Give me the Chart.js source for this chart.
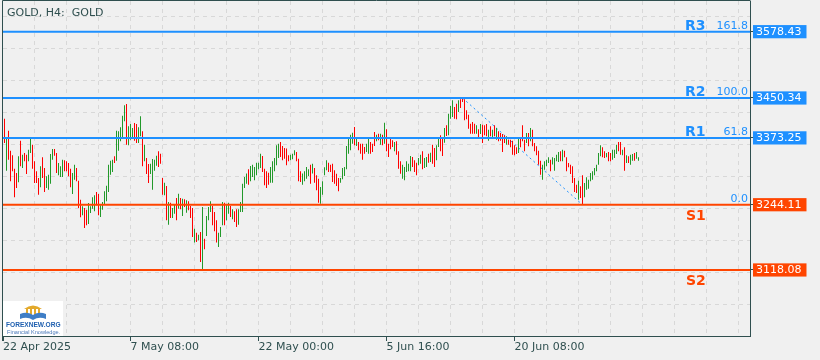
<!DOCTYPE html>
<html>
<head>
<meta charset="utf-8">
<title>GOLD H4</title>
<script src="https://cdn.jsdelivr.net/npm/chart.js@4"></script>
<style>
  html, body { margin: 0; padding: 0; background: #f0f0f0; }
  canvas { display: block; }
</style>
</head>
<body>
<canvas id="chart" width="820" height="360"></canvas>
<script>
// Giá cao / thấp của từng nến H4, hướng nến: 1 = tăng, 0 = giảm
const highs = [
  3410.4, 3373.0, 3387.2, 3348.5, 3339.5, 3313.8, 3305.4, 3337.6, 3367.9, 3340.8,
  3344.0, 3340.8, 3350.5, 3373.0, 3360.1, 3327.9, 3308.6, 3295.7, 3318.3, 3335.7,
  3315.1, 3299.0, 3302.2, 3342.1, 3351.8, 3351.8, 3344.0, 3324.7, 3318.3, 3331.2,
  3329.9, 3327.9, 3324.7, 3313.8, 3305.4, 3321.5, 3315.1, 3290.6, 3253.9, 3241.0,
  3237.8, 3234.6, 3247.4, 3241.0, 3258.4, 3262.3, 3268.7, 3264.8, 3242.9, 3249.4,
  3270.0, 3280.9, 3321.5, 3329.2, 3331.2, 3337.6, 3387.2, 3385.9, 3393.6, 3416.2,
  3436.1, 3438.7, 3395.6, 3400.1, 3392.3, 3402.0, 3400.1, 3393.6, 3414.9, 3385.9,
  3360.1, 3334.4, 3322.8, 3323.4, 3332.4, 3331.2, 3338.9, 3347.3, 3342.8, 3295.8,
  3286.8, 3280.3, 3249.4, 3248.1, 3237.8, 3244.3, 3257.1, 3265.5, 3257.1, 3255.9,
  3254.6, 3252.6, 3250.7, 3241.7, 3237.8, 3197.9, 3190.2, 3186.3, 3191.5, 3239.8,
  3178.6, 3222.4, 3239.8, 3250.7, 3241.7, 3230.1, 3214.0, 3190.2, 3201.1, 3249.4,
  3248.1, 3244.3, 3248.1, 3241.7, 3235.3, 3231.4, 3235.3, 3235.3, 3249.4, 3284.8,
  3297.7, 3304.2, 3312.5, 3319.0, 3321.5, 3317.0, 3325.4, 3325.4, 3342.8, 3338.3,
  3313.8, 3308.7, 3306.1, 3317.0, 3328.0, 3334.4, 3358.9, 3362.1, 3365.3, 3357.6,
  3353.7, 3352.5, 3339.6, 3340.9, 3342.8, 3349.2, 3346.0, 3333.1, 3308.7, 3304.2,
  3308.7, 3317.0, 3312.5, 3321.5, 3323.5, 3315.1, 3300.9, 3294.5, 3278.4, 3289.3,
  3316.4, 3329.9, 3325.4, 3321.5, 3323.4, 3310.6, 3304.1, 3295.7, 3295.7, 3315.1,
  3317.0, 3357.6, 3371.7, 3379.5, 3383.3, 3394.3, 3375.0, 3365.3, 3362.1, 3362.1,
  3355.6, 3362.1, 3371.7, 3365.3, 3362.1, 3384.6, 3379.5, 3381.4, 3381.4, 3379.5,
  3402.7, 3389.8, 3362.1, 3371.7, 3368.5, 3365.3, 3366.6, 3347.3, 3327.9, 3321.5,
  3317.0, 3327.9, 3323.4, 3338.3, 3336.3, 3329.9, 3325.4, 3334.4, 3340.8, 3347.3,
  3334.4, 3336.3, 3342.8, 3344.7, 3360.1, 3353.7, 3358.9, 3375.0, 3378.2, 3375.0,
  3392.3, 3397.5, 3420.0, 3434.9, 3445.8, 3432.9, 3439.4, 3445.8, 3447.7, 3450.34,
  3447.7, 3426.5, 3418.1, 3400.7, 3403.9, 3400.7, 3397.5, 3389.8, 3400.1, 3398.8,
  3397.5, 3400.1, 3389.2, 3395.6, 3389.2, 3397.5, 3392.4, 3385.9, 3382.7, 3380.8,
  3378.2, 3376.3, 3369.8, 3369.8, 3367.9, 3358.9, 3355.0, 3371.8, 3371.8, 3397.5,
  3369.8, 3382.7, 3382.7, 3392.4, 3389.2, 3363.4, 3357.0, 3348.6, 3329.3, 3321.5,
  3328.0, 3331.2, 3335.7, 3331.2, 3336.0, 3334.4, 3340.9, 3346.0, 3347.3, 3350.5,
  3348.6, 3335.7, 3324.8, 3321.5, 3318.3, 3295.8, 3282.9, 3290.6, 3279.7, 3300.9,
  3286.1, 3297.1, 3292.6, 3305.4, 3308.7, 3315.1, 3321.5, 3344.1, 3358.9, 3355.0,
  3347.3, 3344.1, 3346.0, 3344.1, 3350.5, 3350.5, 3360.2, 3365.3, 3365.3, 3350.5,
  3355.0, 3339.6, 3337.6, 3340.9, 3342.1, 3344.1, 3346.0, 3335.7
];
const lows = [
  3363.4, 3309.9, 3331.2, 3289.3, 3308.6, 3258.4, 3276.4, 3287.4, 3318.3, 3315.1,
  3327.9, 3303.5, 3327.9, 3344.0, 3313.8, 3286.1, 3286.1, 3263.5, 3277.7, 3295.7,
  3268.7, 3276.4, 3273.2, 3284.8, 3331.2, 3338.9, 3305.4, 3300.9, 3297.7, 3297.7,
  3308.6, 3308.6, 3299.0, 3277.7, 3264.8, 3292.5, 3289.3, 3237.8, 3219.7, 3223.6,
  3199.1, 3204.3, 3206.9, 3228.1, 3236.5, 3231.3, 3242.9, 3223.6, 3220.4, 3234.6,
  3245.5, 3250.7, 3268.7, 3302.2, 3307.3, 3324.7, 3329.2, 3348.5, 3366.6, 3374.3,
  3405.2, 3360.1, 3358.9, 3369.8, 3371.7, 3367.9, 3363.4, 3363.4, 3376.2, 3318.3,
  3327.9, 3303.5, 3286.1, 3303.5, 3273.2, 3309.9, 3319.6, 3317.0, 3323.5, 3263.6,
  3262.3, 3214.0, 3205.6, 3218.5, 3218.5, 3226.9, 3214.0, 3236.5, 3235.3, 3222.4,
  3239.8, 3228.8, 3233.3, 3218.5, 3181.8, 3170.9, 3172.1, 3175.4, 3133.5, 3119.0,
  3158.0, 3183.7, 3214.0, 3230.1, 3204.3, 3192.7, 3170.9, 3162.5, 3181.8, 3204.3,
  3204.3, 3214.0, 3226.9, 3220.4, 3215.9, 3210.8, 3201.1, 3205.6, 3230.1, 3230.1,
  3276.5, 3284.8, 3282.9, 3289.3, 3297.7, 3291.3, 3300.9, 3312.5, 3315.1, 3307.4,
  3281.6, 3276.5, 3282.9, 3286.8, 3286.8, 3308.7, 3320.3, 3334.4, 3336.4, 3329.9,
  3333.1, 3320.3, 3328.0, 3329.9, 3331.9, 3339.6, 3328.0, 3289.3, 3288.1, 3282.9,
  3289.3, 3294.5, 3299.7, 3284.8, 3304.2, 3286.8, 3272.0, 3248.1, 3246.2, 3263.5,
  3300.9, 3310.6, 3307.3, 3307.3, 3288.0, 3284.8, 3280.3, 3270.0, 3286.7, 3293.2,
  3299.6, 3312.5, 3342.8, 3349.2, 3362.1, 3358.9, 3357.6, 3349.2, 3342.8, 3331.2,
  3342.8, 3346.0, 3342.8, 3342.8, 3346.0, 3357.6, 3366.6, 3368.5, 3360.1, 3358.9,
  3362.1, 3347.3, 3336.3, 3351.1, 3355.6, 3347.3, 3340.8, 3313.8, 3304.1, 3294.5,
  3291.2, 3307.3, 3308.6, 3308.6, 3317.0, 3307.3, 3300.9, 3320.2, 3323.4, 3312.5,
  3315.1, 3317.0, 3325.4, 3326.7, 3323.4, 3317.0, 3329.9, 3355.6, 3347.3, 3338.3,
  3364.0, 3376.9, 3378.2, 3410.4, 3413.6, 3410.4, 3409.1, 3423.3, 3431.0, 3442.6,
  3407.2, 3409.1, 3391.1, 3381.4, 3381.4, 3381.4, 3381.4, 3375.0, 3380.8, 3363.4,
  3378.2, 3376.3, 3367.9, 3376.3, 3373.1, 3376.3, 3369.8, 3366.6, 3367.9, 3346.0,
  3363.4, 3360.2, 3360.2, 3355.0, 3340.9, 3339.6, 3342.1, 3344.1, 3355.0, 3366.6,
  3347.3, 3363.4, 3357.0, 3366.6, 3357.0, 3347.3, 3339.6, 3321.5, 3302.2, 3292.6,
  3311.9, 3318.3, 3324.8, 3308.7, 3322.0, 3309.9, 3328.0, 3326.7, 3328.0, 3328.0,
  3335.7, 3308.7, 3316.4, 3303.5, 3286.1, 3268.7, 3266.8, 3253.9, 3257.1, 3244.11,
  3258.4, 3273.2, 3275.2, 3289.3, 3292.6, 3300.9, 3308.7, 3321.5, 3337.6, 3335.7,
  3334.4, 3335.7, 3328.0, 3328.0, 3331.2, 3334.4, 3342.1, 3347.3, 3340.9, 3339.6,
  3309.9, 3324.8, 3324.8, 3321.5, 3329.3, 3329.3, 3333.1, 3329.3
];
const dirs = [
  0,1,0,0,0,0,0,1,0,1, 0,0,1,1,0,0,0,0,1,0, 0,1,1,1,1,0,0,1,1,1, 0,0,0,0,1,1,0,0,0,1,
  0,0,1,1,1,1,0,0,1,1, 1,1,1,1,1,0,1,1,1,1, 1,0,1,1,1,0,0,1,1,0, 1,0,0,1,1,1,1,0,0,0,
  1,0,1,0,1,1,0,1,0,1, 0,1,0,0,0,1,0,1,0,1, 0,1,1,1,0,0,0,1,1,1, 0,1,1,0,1,0,0,1,1,1,
  1,1,0,1,1,1,1,1,1,0, 0,0,0,1,1,1,1,1,0,0, 0,0,0,1,1,1,0,0,0,1, 1,1,1,0,1,0,0,0,1,1,
  1,1,0,0,0,0,0,0,1,1, 1,1,1,1,1,0,1,0,0,0, 0,1,1,0,0,0,1,0,1,0, 1,0,0,0,0,1,0,0,0,1,
  1,1,1,1,0,0,0,1,1,0, 1,1,0,1,0,0,1,1,0,0, 1,0,1,1,1,0,0,1,0,0, 0,0,0,0,0,0,1,0,1,0,
  0,0,1,0,1,0,1,0,0,0, 0,1,0,0,0,0,0,1,0,0, 0,1,0,1,0,0,0,0,0,1, 1,1,1,0,1,1,1,1,0,1,
  0,0,0,0,0,0,0,1,0,0, 1,1,1,1,1,1,1,1,1,0, 0,1,0,0,1,1,1,0,0,1, 0,1,0,1,1,0,1,1
];

// Các mức hỗ trợ / kháng cự và Fibonacci
const levelNames = ['R3', 'R2', 'R1', 'S1', 'S2'];
const levelValues = [3578.43, 3450.34, 3373.25, 3244.11, 3118.08];
const fibLabels = ['161.8', '100.0', '61.8', '0.0', ''];
const fibIdx = [229, 289];          // nến đỉnh -> nến đáy
const fibPrices = [3450.34, 3244.11];

// Nhãn thời gian trên trục x
const firstTimeLabel = '22 Apr 2025';
const timeLabelIdx = [63, 127, 191, 255];
const timeLabels = ['7 May 08:00', '22 May 00:00', '5 Jun 16:00', '20 Jun 08:00'];

const X_MIN = -0.75, X_MAX = 372.75;
const Y_MIN = 2990.5, Y_MAX = 3637.7;

const BLUE = '#1e90ff', ORANGE = '#ff4500';
const UP = '#22992a', DOWN = '#ff0000';
const INK = '#2f4f4f', GRID = '#d8d8d8';
const FONT = '"DejaVu Sans", sans-serif';

const isLevel = (v) => levelValues.includes(v);
const levelColor = (v) => levelValues.indexOf(v) < 3 ? BLUE : ORANGE;
const isTimeTick = (v) => v === X_MIN || timeLabelIdx.includes(v);

// khung viền trái / trên + tiêu đề + logo
const decorPlugin = {
  id: 'decor',
  afterDatasetsDraw(chart) {
    const ctx = chart.ctx;
    const area = chart.chartArea;
    const ys = chart.scales.y;
    ctx.save();
    levelValues.forEach((v, k) => {
      const py = ys.getPixelForValue(v);
      ctx.font = 'bold 14px ' + FONT;
      ctx.fillStyle = k < 3 ? BLUE : ORANGE;
      ctx.textAlign = 'left';
      ctx.textBaseline = 'alphabetic';
      if (k < 3) ctx.fillText(levelNames[k], area.right - 65, py - 2);
      else ctx.fillText(levelNames[k], area.right - 64, py + 15);
      if (fibLabels[k]) {
        ctx.font = '11px ' + FONT;
        ctx.fillStyle = BLUE;
        ctx.textAlign = 'right';
        ctx.fillText(fibLabels[k], area.right - 2, py - 3);
      }
    });
    ctx.restore();
  },
  afterDraw(chart) {
    const ctx = chart.ctx;
    const area = chart.chartArea;
    ctx.save();
    ctx.strokeStyle = INK;
    ctx.lineWidth = 1;
    ctx.beginPath();
    ctx.moveTo(area.left - 0.5, area.bottom + 5);
    ctx.lineTo(area.left - 0.5, area.top - 0.5);
    ctx.lineTo(area.right + 0.5, area.top - 0.5);
    ctx.stroke();

    ctx.fillStyle = INK;
    ctx.font = '11px ' + FONT;
    ctx.textBaseline = 'alphabetic';
    ctx.fillText('GOLD, H4:  GOLD', 7, 16);

    // logo FOREXNEW.ORG
    const lx = area.left, ly = area.bottom - 35;
    ctx.fillStyle = '#ffffff';
    ctx.fillRect(lx, ly, 60, 35);
    ctx.fillStyle = '#e3a92b';
    ctx.beginPath();
    ctx.moveTo(lx + 21, ly + 8);
    ctx.quadraticCurveTo(lx + 30, ly + 1, lx + 39, ly + 8);
    ctx.closePath();
    ctx.fill();
    for (let k = 0; k < 4; k++) ctx.fillRect(lx + 23 + k * 4, ly + 8, 2, 7);
    ctx.fillStyle = '#3f7ec6';
    ctx.beginPath();
    ctx.moveTo(lx + 17, ly + 13);
    ctx.quadraticCurveTo(lx + 24, ly + 10, lx + 30, ly + 14);
    ctx.quadraticCurveTo(lx + 36, ly + 10, lx + 43, ly + 13);
    ctx.lineTo(lx + 43, ly + 18);
    ctx.quadraticCurveTo(lx + 36, ly + 15, lx + 30, ly + 19);
    ctx.quadraticCurveTo(lx + 24, ly + 15, lx + 17, ly + 18);
    ctx.closePath();
    ctx.fill();
    ctx.fillStyle = '#1f5faf';
    ctx.font = 'bold 6.6px "Liberation Sans", sans-serif';
    ctx.fillText('FOREXNEW.ORG', lx + 3, ly + 26);
    ctx.fillStyle = '#4a78b8';
    ctx.font = '5.6px "Liberation Sans", sans-serif';
    ctx.fillText('Financial Knowledge.', lx + 4, ly + 33);
    ctx.restore();
  }
};

const candles = highs.map((h, i) => ({ x: i, y: [lows[i], h] }));

new Chart(document.getElementById('chart'), {
  type: 'bar',
  data: {
    datasets: [
      ...levelValues.map((v, k) => ({
        type: 'line',
        data: [{ x: X_MIN, y: v }, { x: X_MAX, y: v }],
        borderColor: k < 3 ? BLUE : ORANGE,
        borderWidth: 2,
        pointRadius: 0,
        order: 0
      })),
      {
        type: 'bar',
        data: candles,
        backgroundColor: dirs.map((d) => (d ? UP : DOWN)),
        barThickness: 1,
        borderWidth: 0,
        inflateAmount: 0,
        order: 1
      },
      {
        type: 'line',
        data: [{ x: fibIdx[0], y: fibPrices[0] }, { x: fibIdx[1], y: fibPrices[1] }],
        borderColor: BLUE,
        borderWidth: 1,
        borderDash: [2, 3],
        pointRadius: 0,
        order: 2
      }
    ]
  },
  options: {
    responsive: false,
    animation: false,
    devicePixelRatio: 1,
    events: [],
    layout: { padding: { left: 3, top: 1, right: 0, bottom: 0 } },
    plugins: { legend: { display: false }, tooltip: { enabled: false } },
    scales: {
      x: {
        type: 'linear',
        min: X_MIN,
        max: X_MAX,
        offset: false,
        afterBuildTicks: (s) => {
          const t = [{ value: X_MIN }];
          for (let v = 15; v < X_MAX; v += 16) t.push({ value: v });
          s.ticks = t;
        },
        afterFit: (s) => { s.height = 24; s.paddingLeft = 0; s.paddingRight = 0; },
        grid: {
          offset: false,
          color: (c) => (c.tick && c.tick.value === X_MIN ? 'transparent' : GRID),
          tickColor: (c) => (c.tick && isTimeTick(c.tick.value) ? INK : 'transparent'),
          tickLength: 5
        },
        border: { color: INK, dash: [4, 4] },
        ticks: {
          autoSkip: false,
          maxRotation: 0,
          align: 'start',
          padding: 0,
          color: INK,
          font: { family: FONT, size: 11 },
          callback: (v) => {
            if (v === X_MIN) return firstTimeLabel;
            const k = timeLabelIdx.indexOf(v);
            return k >= 0 ? timeLabels[k] : '';
          }
        }
      },
      y: {
        type: 'linear',
        position: 'right',
        min: Y_MIN,
        max: Y_MAX,
        afterBuildTicks: (s) => {
          const ppx = (Y_MAX - Y_MIN) / 335;
          const vals = [];
          for (let k = 1; k <= 10; k++) vals.push(Y_MIN + (32 * k - 0.5) * ppx);
          s.ticks = vals.concat(levelValues).sort((a, b) => a - b).map((v) => ({ value: v }));
        },
        afterFit: (s) => { s.width = 70; s.paddingTop = 0; s.paddingBottom = 0; },
        grid: {
          color: (c) => (c.tick && isLevel(c.tick.value) ? 'transparent' : GRID),
          tickColor: (c) => (c.tick && isLevel(c.tick.value) ? INK : 'transparent'),
          tickLength: 3
        },
        border: { color: INK, dash: [4, 4] },
        ticks: {
          autoSkip: false,
          padding: 3,
          color: '#ffffff',
          font: { family: FONT, size: 11 },
          callback: (v) => (isLevel(v) ? v.toFixed(2) : ''),
          showLabelBackdrop: true,
          backdropColor: (c) => (c.tick && isLevel(c.tick.value) ? levelColor(c.tick.value) : 'transparent'),
          backdropPadding: { top: 0, bottom: 0, left: 3, right: 5 }
        }
      }
    }
  },
  plugins: [decorPlugin]
});
</script>
</body>
</html>
